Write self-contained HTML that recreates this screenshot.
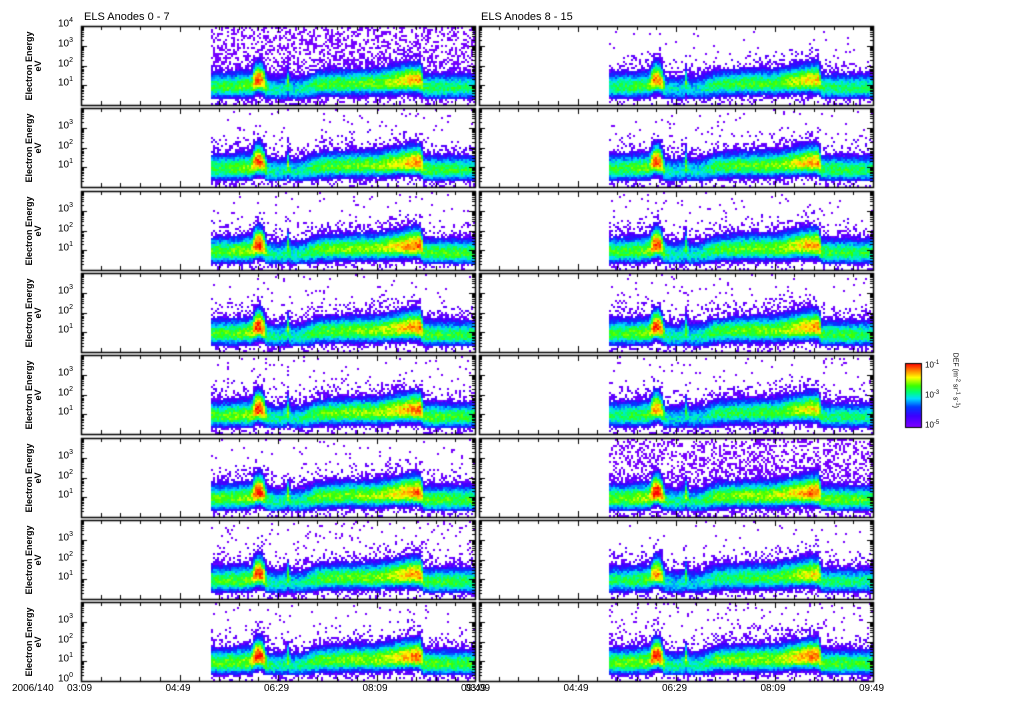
<!DOCTYPE html>
<html><head><meta charset="utf-8">
<style>
html,body{margin:0;padding:0;background:#fff;}
body{width:1024px;height:708px;position:relative;overflow:hidden;font-family:"Liberation Sans",sans-serif;}
#cv{position:absolute;left:0;top:0;}
.t{position:absolute;font-size:11px;color:#000;white-space:nowrap;}
.yl{position:absolute;font-size:9px;font-weight:bold;transform:rotate(-90deg);transform-origin:center;white-space:nowrap;text-align:center;width:80px;line-height:9px;}
</style></head>
<body>
<canvas id="cv" width="1024" height="708"></canvas>
<div class="t" style="left:84px;top:11px;font-size:11px">ELS Anodes 0 - 7</div>
<div class="t" style="left:481px;top:11px;font-size:11px">ELS Anodes 8 - 15</div>
<div id="labels"></div>
<script>
// ---- data ----
const knotMinutes = [132,150,172,176,180,184,188,200,207,209,212,225,240,270,300,320,335,344,347,360,400];
const bandCenter  = [0.95,0.95,1.0,1.25,1.3,1.2,0.85,0.8,0.85,1.1,0.8,0.85,1.05,1.1,1.1,1.2,1.25,1.25,0.9,0.9,0.9];
const bandAmp     = [0.68,0.7,0.74,0.97,1.0,0.92,0.62,0.58,0.6,0.74,0.56,0.6,0.69,0.72,0.74,0.82,0.9,0.93,0.68,0.68,0.66];
const bandUpper   = [0.6,0.6,0.62,0.7,0.72,0.7,0.55,0.55,0.6,0.7,0.55,0.55,0.58,0.6,0.62,0.66,0.7,0.7,0.58,0.58,0.58];
const leftSpeckle  = [0.35,0.03,0.03,0.03,0.03,0.03,0.05,0.03];
const rightSpeckle = [0.02,0.03,0.03,0.04,0.03,0.35,0.02,0.06];
const leftGain  = [0.95,0.97,1.0,0.98,1.0,1.0,0.97,1.0];
const rightGain = [0.92,0.95,0.97,0.97,0.9,1.02,0.9,1.0];
const timeTicks = ["03:09","04:49","06:29","08:09","09:49"];
const yTickExp = [0,1,2,3,4];
const startMinute = 132, endMinute = 400;

// ---- geometry ----
const cols=[{x0:81,x1:475},{x0:479,x1:873}];
const pTop=i=>Math.round(26+i*82.3), pH=79;
const xScale=(c,m)=>cols[c].x0+(m/400)*(cols[c].x1-cols[c].x0);
const yScale=(i,le)=>pTop(i)+pH-(le/4)*pH;

function interp(arr,m){
  for(let k=0;k<knotMinutes.length-1;k++){
    if(m<=knotMinutes[k+1]){const f=(m-knotMinutes[k])/(knotMinutes[k+1]-knotMinutes[k]);return arr[k]+(arr[k+1]-arr[k])*f;}
  }return arr[arr.length-1];
}
function hash(a,b,c){let h=(a*374761393+b*668265263+c*2147483647)|0;h=(h^(h>>>13))*1274126177|0;h=h^(h>>>16);return ((h>>>0)%10000)/10000;}
const stops=[[0,[128,0,255]],[0.18,[60,0,255]],[0.32,[0,60,255]],[0.45,[0,220,255]],[0.55,[0,255,120]],[0.65,[60,255,0]],[0.78,[255,255,0]],[0.9,[255,120,0]],[1,[255,0,0]]];
function cmap(v){v=Math.max(0,Math.min(1,v));for(let k=0;k<stops.length-1;k++){if(v<=stops[k+1][0]){const f=(v-stops[k][0])/(stops[k+1][0]-stops[k][0]);const a=stops[k][1],b=stops[k+1][1];return `rgb(${Math.round(a[0]+(b[0]-a[0])*f)},${Math.round(a[1]+(b[1]-a[1])*f)},${Math.round(a[2]+(b[2]-a[2])*f)})`;}}return 'rgb(255,0,0)';}

const cv=document.getElementById('cv'),ctx=cv.getContext('2d');
ctx.fillStyle='#fff';ctx.fillRect(0,0,1024,708);
for(let c=0;c<2;c++)for(let i=0;i<8;i++){
  const sp=(c?rightSpeckle:leftSpeckle)[i], g=(c?rightGain:leftGain)[i];
  const xa=xScale(c,startMinute), xb=xScale(c,endMinute);
  for(let x=Math.round(xa);x<xb;x+=2){
    const m=(x-cols[c].x0)/(cols[c].x1-cols[c].x0)*400;
    const cen=interp(bandCenter,m),amp=interp(bandAmp,m)*g,wu=interp(bandUpper,m),wl=0.45;
    for(let y=pTop(i)+1;y<pTop(i)+pH;y+=2){
      const le=(pTop(i)+pH-y)/pH*4, d=le-cen, w=d>0?wu:wl;
      let v=amp*Math.exp(-0.5*(d/w)*(d/w));
      const r=hash(x,y,i+c*8);
      v+=(r-0.5)*0.14*Math.min(1,v*3);
      if(le<0.35) v*=0.6;
      const tail=0.15*Math.exp(-Math.abs(d)/0.9);
      let col=null;
      if(v>0.24) col=cmap((v-0.12)/0.88);
      else if(hash(y,x,i+c*8+3)<(v+tail)*2.2-0.05) col=cmap(0.02+r*0.12);
      else if(hash(y,x,i*7+c)<sp*(le>cen?1:0.5)) col=cmap(0.03);
      if(col){ctx.fillStyle=col;ctx.fillRect(x,y,2,2);}
    }
  }
}
// frames & ticks
ctx.strokeStyle='#000';ctx.fillStyle='#000';
for(let c=0;c<2;c++)for(let i=0;i<8;i++){
  const t=pTop(i),x0=cols[c].x0,x1=cols[c].x1;
  ctx.lineWidth=1.5;ctx.strokeRect(x0+0.5,t+0.5,x1-x0,pH);
  ctx.lineWidth=1;
  for(let m=0;m<=400;m+=20){const x=Math.round(xScale(c,m))+0.5;const L=m%100===0?6:4;
    ctx.beginPath();ctx.moveTo(x,t);ctx.lineTo(x,t+L);ctx.moveTo(x,t+pH);ctx.lineTo(x,t+pH-L);ctx.stroke();}
  for(let e=0;e<4;e++)for(let k=1;k<10;k++){const y=Math.round(yScale(i,e+Math.log10(k)))+0.5;const L=k===1?6:3;
    ctx.beginPath();ctx.moveTo(x0,y);ctx.lineTo(x0+L,y);ctx.moveTo(x1,y);ctx.lineTo(x1-L,y);ctx.stroke();}
}
// colorbar
for(let y=0;y<64;y++){ctx.fillStyle=cmap(1-y/64);ctx.fillRect(905,363+y,17,1);}
ctx.strokeStyle='#000';ctx.strokeRect(905.5,363.5,16,64);

const lab=document.getElementById('labels');
function add(html,style,name){const d=document.createElement('div');d.className='t';d.innerHTML=html;d.style.cssText=style;
  
  
  lab.appendChild(d);return d;}
for(let i=0;i<8;i++){
  const t=pTop(i);
  const d=document.createElement('div');d.className='yl';d.innerHTML='Electron Energy<br>eV';
  d.style.left=(-6)+'px';d.style.top=(t+pH/2-9)+'px';
  
  
  lab.appendChild(d);
  for(const e of yTickExp){
    if(e===4&&i>0)continue; if(e===0&&i<7)continue;
    add('10<sup style="font-size:7px">'+e+'</sup>',`left:58px;top:${yScale(i,e)-9}px;font-size:10px`,'y-tick-label');
  }
}
timeTicks.forEach((s,k)=>{
  for(let c=0;c<2;c++){const x=xScale(c,k*100);
    add(s,`left:${x-14}px;top:683px;font-size:10px`,'x-tick-label');}
});
add('2006/140',`left:12px;top:683px;font-size:10px`,'date-label');
add('10<sup style="font-size:6px">-1</sup>','left:925px;top:360px;font-size:8px','colorbar-tick');
add('10<sup style="font-size:6px">-3</sup>','left:925px;top:390px;font-size:8px','colorbar-tick');
add('10<sup style="font-size:6px">-5</sup>','left:925px;top:420px;font-size:8px','colorbar-tick');
add('DEF (m<sup>-2</sup> sr<sup>-1</sup> s<sup>-1</sup>)','left:916px;top:388px;font-size:7px;transform:rotate(90deg);transform-origin:center;width:80px','colorbar-title');
</script>
</body></html>
